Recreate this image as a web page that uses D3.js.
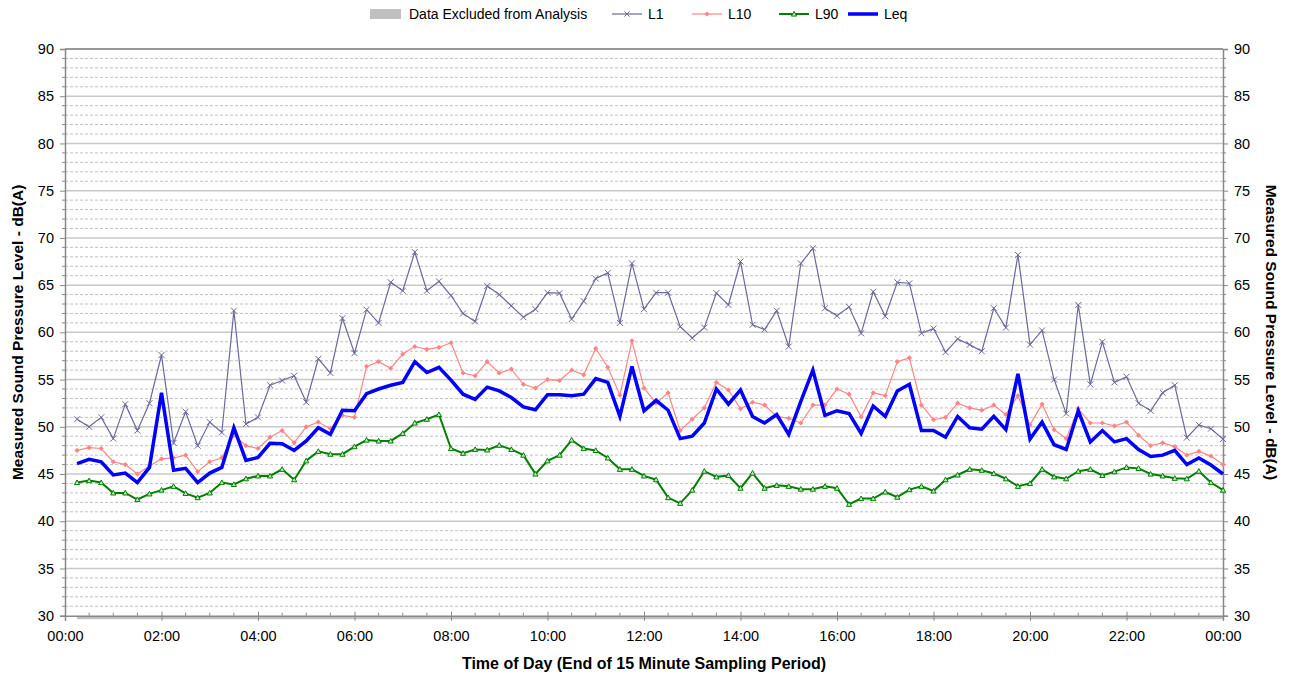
<!DOCTYPE html>
<html><head><meta charset="utf-8">
<script src="https://cdn.jsdelivr.net/npm/d3@7"></script>
<style>body{margin:0;background:#fff}svg{display:block}text{font-family:"Liberation Sans",Arial,sans-serif}</style>
</head><body><svg id="c" width="1293" height="679"></svg>
<script>
// 15-minute periods (end time index 1..96)
const periods = d3.range(1, 97);
const L1 = [50.8,50.0,51.0,48.75,52.4,49.6,52.5,57.6,48.3,51.6,48.0,50.5,49.4,62.3,50.3,51.0,
54.4,54.9,55.4,52.6,57.2,55.7,61.5,57.8,62.4,61.0,65.3,64.4,68.5,64.4,65.4,63.9,
62.0,61.15,64.9,64.0,62.8,61.6,62.45,64.2,64.15,61.4,63.3,65.7,66.3,61.0,67.3,62.45,
64.2,64.2,60.6,59.4,60.5,64.15,62.9,67.5,60.8,60.3,62.3,58.5,67.3,68.9,62.55,61.75,
62.7,59.9,64.3,61.7,65.3,65.2,59.9,60.4,57.9,59.3,58.7,58.0,62.55,60.5,68.2,58.7,
60.2,55.0,51.4,62.9,54.5,59.0,54.7,55.3,52.5,51.7,53.6,54.4,48.85,50.2,49.8,48.7];
const L10 = [47.5,47.8,47.7,46.3,46.0,45.0,45.85,46.6,46.7,47.0,45.25,46.3,46.7,49.1,48.0,47.7,
48.9,49.6,48.3,50.0,50.5,49.8,51.2,51.0,56.4,56.9,56.2,57.7,58.5,58.2,58.4,58.9,
55.7,55.4,56.9,55.7,56.1,54.5,54.1,55.0,54.9,56.0,55.5,58.3,56.3,53.35,59.1,54.1,
52.5,53.6,49.6,50.8,52.0,54.7,53.9,51.9,52.6,52.3,51.1,50.9,50.4,52.3,52.3,54.0,
53.45,51.05,53.6,53.3,56.9,57.3,52.3,50.75,51.0,52.5,52.0,51.75,52.3,51.3,53.3,50.2,
52.4,49.7,48.75,51.9,50.4,50.4,50.1,50.5,49.1,48.0,48.3,47.9,47.0,47.4,46.9,46.0];
const L90 = [44.1,44.3,44.1,43.0,43.0,42.3,42.9,43.3,43.7,42.95,42.5,43.0,44.1,43.9,44.5,44.8,
44.8,45.5,44.4,46.4,47.4,47.1,47.1,47.9,48.6,48.5,48.5,49.3,50.4,50.8,51.3,47.7,
47.2,47.6,47.55,48.05,47.6,47.0,45.0,46.4,47.0,48.6,47.7,47.5,46.7,45.5,45.5,44.8,
44.4,42.5,41.9,43.3,45.3,44.7,44.85,43.5,45.1,43.5,43.8,43.7,43.4,43.4,43.7,43.5,
41.8,42.4,42.4,43.1,42.55,43.35,43.7,43.2,44.4,44.9,45.5,45.4,45.05,44.5,43.7,44.0,
45.5,44.7,44.5,45.3,45.5,44.85,45.25,45.7,45.6,45.0,44.8,44.55,44.5,45.3,44.1,43.3];
const Leq = [46.1,46.55,46.3,44.9,45.1,44.1,45.7,53.6,45.4,45.6,44.1,45.1,45.7,49.9,46.45,46.75,
48.25,48.2,47.5,48.5,49.9,49.2,51.75,51.7,53.5,54.0,54.4,54.7,56.9,55.75,56.3,54.95,
53.45,52.9,54.2,53.8,53.1,52.1,51.8,53.4,53.4,53.3,53.45,55.1,54.7,51.1,56.4,51.7,
52.8,51.75,48.75,49.0,50.4,54.0,52.4,53.9,51.1,50.4,51.3,49.2,52.7,56.0,51.2,51.7,
51.4,49.3,52.2,51.1,53.8,54.5,49.6,49.6,48.9,51.1,49.9,49.75,51.1,49.7,55.6,48.7,
50.5,48.1,47.6,51.7,48.4,49.6,48.4,48.75,47.6,46.85,47.0,47.5,46.0,46.7,45.95,45.0];
const yTicks = d3.range(30, 91, 5);
const xTickHours = d3.range(0, 25, 2);
const legendLabels = ["Data Excluded from Analysis","L1","L10","L90","Leq"];
const yTitle = "Measured Sound Pressure Level - dB(A)";
const xTitle = "Time of Day (End of 15 Minute Sampling Period)";

const svg = d3.select("#c");
const L = 65, R = 1223, T = 49, B = 615.7;
const x = d3.scaleLinear().domain([0, 1440]).range([L, R]);
const y = d3.scaleLinear().domain([30, 90]).range([B, T]);

// minor gridlines (1 dB)
const g = svg.append("g");
g.selectAll("line.minor").data(d3.range(31, 90).filter(v => v % 5 !== 0)).join("line")
  .attr("x1", L).attr("x2", R).attr("y1", d => y(d)).attr("y2", d => y(d))
  .attr("stroke", "#c2c2c2").attr("stroke-width", 1).attr("stroke-dasharray", "3,2");
g.selectAll("line.major").data(yTicks.filter(v => v > 30 && v < 90)).join("line")
  .attr("x1", L).attr("x2", R).attr("y1", d => y(d)).attr("y2", d => y(d))
  .attr("stroke", "#c8c8c8").attr("stroke-width", 1.5);
// top line
svg.append("line").attr("x1", L).attr("x2", R).attr("y1", y(90)).attr("y2", y(90))
  .attr("stroke", "#333").attr("stroke-width", 1.2);

// excluded data band
svg.append("rect").attr("x", x(15)).attr("y", B + 1).attr("width", x(1440) - x(15)).attr("height", 2.5)
  .attr("fill", "#c0c0c0");

// Y axes
const yl = svg.append("g").attr("transform", `translate(${L},0)`)
  .call(d3.axisLeft(y).tickValues(yTicks).tickSize(5).tickPadding(6));
const yr = svg.append("g").attr("transform", `translate(${R},0)`)
  .call(d3.axisRight(y).tickValues(yTicks).tickSize(5).tickPadding(6));
[yl, yr].forEach(a => {
  a.select(".domain").attr("stroke", "#888").attr("stroke-width", 1.5);
  a.selectAll(".tick line").attr("stroke", "#888");
  a.selectAll("text").attr("font-size", 14.5).attr("fill", "#000");
});
[[L, -3], [R, 3]].forEach(([px, dx]) => {
  svg.append("g").selectAll("line").data(d3.range(31, 90).filter(v => v % 5 !== 0)).join("line")
    .attr("x1", px).attr("x2", px + dx).attr("y1", d => y(d)).attr("y2", d => y(d))
    .attr("stroke", "#888");
});

// X axis
const xa = svg.append("g").attr("transform", `translate(0,${B})`)
  .call(d3.axisBottom(x).tickValues(xTickHours.map(h => h * 60)).tickSize(5).tickPadding(10)
    .tickFormat(d => { const h = (d / 60) % 24; return String(h).padStart(2, "0") + ":00"; }));
xa.select(".domain").attr("stroke", "#888").attr("stroke-width", 1.5);
xa.selectAll(".tick line").attr("stroke", "#888").attr("y1", -4);
xa.selectAll("text").attr("font-size", 14.5).attr("fill", "#000");
svg.append("g").selectAll("line").data(d3.range(30, 1440, 30).filter(m => m % 120 !== 0)).join("line")
  .attr("x1", d => x(d)).attr("x2", d => x(d)).attr("y1", B - 3).attr("y2", B).attr("stroke", "#888");

// Series
const line = arr => d3.line().x((d, i) => x(periods[i] * 15)).y(d => y(d))(arr);
const cL1 = "#6a6a9c", cL10 = "#ff8585", cL90 = "#008000", cLeq = "#0000ff";

svg.append("path").attr("d", line(L1)).attr("fill", "none").attr("stroke", cL1).attr("stroke-width", 1.2);
svg.append("g").selectAll("path").data(L1).join("path")
  .attr("d", (d, i) => { const cx = x(periods[i] * 15), cy = y(d), s = 3;
    return `M${cx-s},${cy-s}L${cx+s},${cy+s}M${cx-s},${cy+s}L${cx+s},${cy-s}`; })
  .attr("stroke", cL1).attr("stroke-width", 1);

svg.append("path").attr("d", line(L10)).attr("fill", "none").attr("stroke", cL10).attr("stroke-width", 1.2);
svg.append("g").selectAll("path").data(L10).join("path")
  .attr("d", (d, i) => { const cx = x(periods[i] * 15), cy = y(d), s = 2.6;
    return `M${cx},${cy-s}L${cx+s},${cy}L${cx},${cy+s}L${cx-s},${cy}Z`; })
  .attr("fill", cL10);

svg.append("path").attr("d", line(L90)).attr("fill", "none").attr("stroke", cL90).attr("stroke-width", 2);
svg.append("g").selectAll("path").data(L90).join("path")
  .attr("d", (d, i) => { const cx = x(periods[i] * 15), cy = y(d), s = 2.6;
    return `M${cx},${cy-s}L${cx+s},${cy+s*0.8}L${cx-s},${cy+s*0.8}Z`; })
  .attr("fill", "#bfe6bf").attr("stroke", cL90).attr("stroke-width", 1);

svg.append("path").attr("d", line(Leq)).attr("fill", "none").attr("stroke", cLeq).attr("stroke-width", 3.5)
  .attr("stroke-linejoin", "miter");

// Axis titles
svg.append("text").attr("transform", `translate(23,${(T + B) / 2}) rotate(-90)`).attr("text-anchor", "middle")
  .attr("font-size", 15.5).attr("font-weight", "bold").text(yTitle);
svg.append("text").attr("transform", `translate(1266,${(T + B) / 2}) rotate(90)`).attr("text-anchor", "middle")
  .attr("font-size", 15.5).attr("font-weight", "bold").text(yTitle);
svg.append("text").attr("x", (L + R) / 2).attr("y", 669).attr("text-anchor", "middle")
  .attr("font-size", 16).attr("font-weight", "bold").text(xTitle);

// Legend
const lg = svg.append("g").attr("font-size", 14);
const ly = 14;
lg.append("rect").attr("x", 370).attr("y", ly - 5).attr("width", 31).attr("height", 10).attr("fill", "#c0c0c0");
lg.append("text").attr("x", 409).attr("y", ly + 5).text(legendLabels[0]);
const items = [
  {x: 612, c: cL1, w: 1.2, lab: legendLabels[1], m: "x"},
  {x: 692, c: cL10, w: 1.2, lab: legendLabels[2], m: "d"},
  {x: 779, c: cL90, w: 2, lab: legendLabels[3], m: "t"},
  {x: 848, c: cLeq, w: 3.5, lab: legendLabels[4], m: ""}
];
items.forEach(it => {
  lg.append("line").attr("x1", it.x).attr("x2", it.x + 30).attr("y1", ly).attr("y2", ly)
    .attr("stroke", it.c).attr("stroke-width", it.w);
  const cx = it.x + 15, s = 2.6;
  if (it.m === "x") lg.append("path").attr("d", `M${cx-s},${ly-s}L${cx+s},${ly+s}M${cx-s},${ly+s}L${cx+s},${ly-s}`).attr("stroke", it.c);
  if (it.m === "d") lg.append("path").attr("d", `M${cx},${ly-s}L${cx+s},${ly}L${cx},${ly+s}L${cx-s},${ly}Z`).attr("fill", it.c);
  if (it.m === "t") lg.append("path").attr("d", `M${cx},${ly-s}L${cx+s},${ly+s*0.8}L${cx-s},${ly+s*0.8}Z`).attr("fill", "#bfe6bf").attr("stroke", it.c);
  lg.append("text").attr("x", it.x + 36).attr("y", ly + 5).text(it.lab);
});
</script></body></html>
